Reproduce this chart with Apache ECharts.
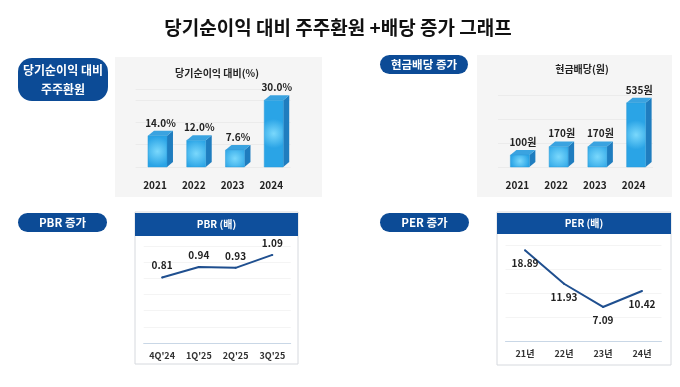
<!DOCTYPE html>
<html><head><meta charset="utf-8">
<script src="https://cdn.jsdelivr.net/npm/echarts@6/dist/echarts.min.js"></script>
<style>html,body{margin:0;padding:0;background:#fff}#c{width:680px;height:387px}</style>
</head><body><div id="c"></div>
<script>
const years = ['2021', '2022', '2023', '2024'];
const payoutRatio = [14.0, 12.0, 7.6, 30.0];
const dividend = [100, 170, 170, 535];
const pbrQuarters = ["4Q'24", "1Q'25", "2Q'25", "3Q'25"];
const pbrValues = [0.81, 0.94, 0.93, 1.09];
const perYears = ['21년', '22년', '23년', '24년'];
const perValues = [18.89, 11.93, 7.09, 10.42];

const FONT = '"Noto Sans CJK KR", "Noto Sans", sans-serif';
const NAVY = '#0c4b96';

function bar3d(fmt) {
  return function (params, api) {
    const top = api.coord([api.value(0), api.value(1)]);
    const base = api.coord([api.value(0), 0]);
    const w = 19, d = 6, h = 5;
    const cx = top[0] + 2.5;
    const l = cx - w / 2, r = cx + w / 2;
    return {
      type: 'group',
      children: [
        { type: 'polygon', shape: { points: [[r, top[1]], [r + d, top[1] - h], [r + d, base[1] - h], [r, base[1]]] },
          style: { fill: '#1f7dbf' } },
        { type: 'polygon', shape: { points: [[l, top[1]], [l + d, top[1] - h], [r + d, top[1] - h], [r, top[1]]] },
          style: { fill: '#3aa3e0' } },
        { type: 'rect', shape: { x: l, y: top[1], width: w, height: base[1] - top[1] },
          style: { fill: { type: 'radial', x: 0.5, y: 0.5, r: 0.75,
            colorStops: [{ offset: 0, color: '#7ad8fc' }, { offset: 1, color: '#2aa4e6' }] },
            stroke: '#2a9bd8', lineWidth: 0.5 } },
        { type: 'text', x: cx + d / 2, y: top[1] - h - 3,
          style: { text: fmt(api.value(1)), fill: '#222', font: 'bold 10px ' + FONT, align: 'center', verticalAlign: 'bottom' } }
      ]
    };
  };
}

function pill(x, y, w, h, lines, fs) {
  const children = [{ type: 'rect', shape: { x: 0, y: 0, width: w, height: h, r: Math.min(h / 2, 14) }, style: { fill: NAVY } }];
  const lh = h / lines.length;
  lines.forEach((t, i) => children.push({ type: 'text', x: w / 2, y: lh * (i + 0.5) + (lines.length > 1 ? (i === 0 ? 2 : -1) : 0),
    style: { text: t, fill: '#fff', font: 'bold ' + fs + 'px ' + FONT, align: 'center', verticalAlign: 'middle' } }));
  return { type: 'group', x: x, y: y, children: children };
}

function panel(x, y, w, h, headerH, title) {
  return { type: 'group', x: x, y: y, children: [
    { type: 'rect', shape: { x: 0, y: 0, width: w, height: h }, style: { fill: '#fff', stroke: '#d6d9de', lineWidth: 1 } },
    { type: 'rect', shape: { x: 0, y: 1, width: w, height: headerH }, style: { fill: '#0e4f9c' } },
    { type: 'text', x: w / 2, y: 1 + headerH / 2, style: { text: title, fill: '#fff', font: 'bold 10px ' + FONT, align: 'center', verticalAlign: 'middle' } }
  ] };
}

const chart = echarts.init(document.getElementById('c'), null, { renderer: 'canvas' });

const hiddenY = (max, interval, idx, color) => ({
  type: 'value', gridIndex: idx, min: 0, max: max, interval: interval,
  axisLabel: { show: false }, axisLine: { show: false }, axisTick: { show: false },
  splitLine: { show: true, lineStyle: { color: color, width: 1 } }
});

const topX = (data, idx) => ({
  type: 'category', gridIndex: idx, data: data,
  axisLine: { show: false }, axisTick: { show: false },
  axisLabel: { margin: 13, color: '#222', fontFamily: FONT, fontWeight: 'bold', fontSize: 10 }
});
const botX = (data, idx) => ({
  type: 'category', gridIndex: idx, data: data,
  axisLine: { show: true, lineStyle: { color: '#c9d7e6', width: 1 } }, axisTick: { show: false },
  axisLabel: { margin: 8, color: '#333', fontFamily: FONT, fontWeight: 'bold', fontSize: 9 }
});

const lineLabel = (pos, dist) => ({ show: true, position: pos, distance: dist, color: '#222', opacity: 1, fontWeight: 'bold', fontSize: 10, fontFamily: FONT,
  formatter: p => p.value.toFixed(2) });

chart.setOption({
  animation: false,
  backgroundColor: '#fff',
  textStyle: { fontFamily: FONT },
  graphic: [
    { type: 'rect', shape: { x: 115, y: 57, width: 207, height: 140 }, style: { fill: '#f5f5f5' }, z: -10 },
    { type: 'rect', shape: { x: 477, y: 55, width: 195, height: 142 }, style: { fill: '#f5f5f5' }, z: -10 },
    panel(135, 212, 163, 152, 23, 'PBR (배)'),
    panel(497, 212, 174, 153, 21, 'PER (배)'),
    { type: 'text', x: 338, y: 28, style: { text: '당기순이익 대비 주주환원 +배당 증가 그래프', fill: '#111', font: 'bold 19px ' + FONT, align: 'center', verticalAlign: 'middle' } },
    pill(18, 58, 90, 43, ['당기순이익 대비', '주주환원'], 12),
    pill(380, 55, 88, 19, ['현금배당 증가'], 11.5),
    pill(18, 213, 89, 19, ['PBR 증가'], 11.5),
    pill(380, 213, 89, 19, ['PER 증가'], 11.5),
    { type: 'text', x: 217, y: 73, style: { text: '당기순이익 대비(%)', fill: '#222', font: 'bold 10px ' + FONT, align: 'center', verticalAlign: 'middle' } },
    { type: 'text', x: 582, y: 69, style: { text: '현금배당(원)', fill: '#222', font: 'bold 10px ' + FONT, align: 'center', verticalAlign: 'middle' } }
  ],
  grid: [
    { left: 135.6, top: 89, width: 155, height: 78, containLabel: false },
    { left: 498, top: 95, width: 155, height: 72, containLabel: false },
    { left: 143.7, top: 246, width: 147, height: 97, containLabel: false },
    { left: 505.5, top: 245, width: 156, height: 96, containLabel: false }
  ],
  xAxis: [topX(years, 0), topX(years, 1), botX(pbrQuarters, 2), botX(perYears, 3)],
  yAxis: [hiddenY(35, 10, 0, '#ebebeb'), hiddenY(600, 200, 1, '#ebebeb'), hiddenY(1.2, 0.2, 2, '#f4f4f4'), hiddenY(20, 5, 3, '#f4f4f4')],
  series: [
    { type: 'custom', xAxisIndex: 0, yAxisIndex: 0, clip: false,
      renderItem: bar3d(v => v.toFixed(1) + '%'),
      encode: { x: 0, y: 1 }, data: years.map((y, i) => [i, payoutRatio[i]]) },
    { type: 'custom', xAxisIndex: 1, yAxisIndex: 1, clip: false,
      renderItem: bar3d(v => v + '원'),
      encode: { x: 0, y: 1 }, data: years.map((y, i) => [i, dividend[i]]) },
    { type: 'line', xAxisIndex: 2, yAxisIndex: 2, data: pbrValues, symbol: 'circle', symbolSize: 2, showSymbol: true,
      itemStyle: { color: '#1f4f8f' },
      lineStyle: { color: '#1f4f8f', width: 2 },
      label: lineLabel('top', 6) },
    { type: 'line', xAxisIndex: 3, yAxisIndex: 3, data: perValues, symbol: 'circle', symbolSize: 2, showSymbol: true,
      itemStyle: { color: '#1f4f8f' },
      lineStyle: { color: '#1f4f8f', width: 2 },
      label: lineLabel('bottom', 7) }
  ]
});
</script>
</body></html>
